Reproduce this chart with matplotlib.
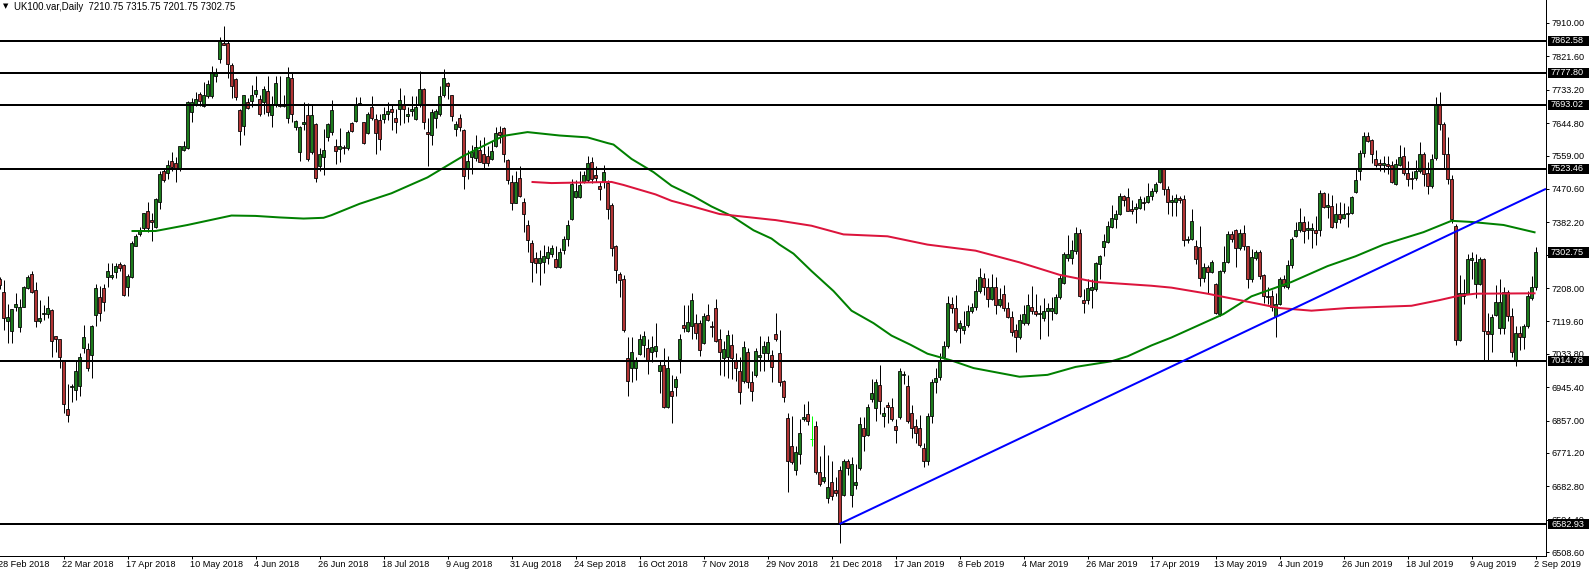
import matplotlib
matplotlib.use('Agg')
import matplotlib.pyplot as plt
import matplotlib.transforms as mtransforms
from matplotlib.patches import Rectangle

# ---------------- data ----------------
symbol = "UK100.var,Daily"

opens = [
7232,7197,7120,7093,7157,7105,7159,7207,7245,7203,
7120,7139,7139,7150,7080,7072,7016,6888,6945,6938,
6949,7049,7046,7030,7137,7184,7207,7238,7238,7250,
7271,7269,7211,7238,7320,7351,7366,7411,7387,7370,
7437,7517,7512,7545,7540,7526,7574,7578,7673,7692,
7723,7689,7716,7716,7770,7815,7857,7856,7799,7761,
7680,7638,7701,7704,7723,7708,7701,7730,7666,7692,
7695,7689,7659,7765,7635,7569,7642,7666,7569,7642,
7531,7555,7607,7621,7583,7576,7581,7578,7645,7651,
7695,7647,7619,7687,7657,7654,7657,7670,7682,7659,
7682,7692,7663,7678,7657,7692,7736,7621,7612,7659,
7668,7718,7752,7718,7628,7659,7626,7522,7555,7553,
7574,7564,7557,7550,7583,7621,7632,7547,7490,7434,
7500,7437,7375,7328,7288,7273,7276,7288,7299,7285,
7263,7309,7337,7392,7448,7449,7490,7493,7543,7507,
7479,7489,7487,7427,7318,7245,7231,7023,6995,6995,
7033,7058,7049,7039,7042,6989,7004,6893,6935,6945,
7020,7110,7093,7108,7115,7115,7063,7137,7106,7156,
7074,7023,7025,7058,7014,6987,6961,7039,6959,6978,
7025,7035,7036,7030,7087,7036,6961,6864,6789,6727,
6768,6860,6874,6809,6843,6720,6696,6651,6694,6673,
6727,6661,6751,6661,6686,6730,6838,6819,6913,6891,
6951,6869,6897,6893,6843,6866,6978,6949,6878,6843,
6836,6784,6751,6869,6959,6973,7025,7055,7167,7156,
7101,7096,7110,7148,7159,7200,7235,7210,7178,7212,
7162,7191,7156,7131,7096,7077,7115,7115,7159,7146,
7139,7129,7148,7146,7143,7184,7222,7288,7288,7307,
7354,7176,7176,7203,7205,7271,7316,7330,7370,7392,
7405,7451,7449,7418,7418,7420,7436,7437,7451,7465,
7489,7522,7470,7436,7437,7446,7443,7335,7337,7318,
7316,7235,7263,7250,7219,7140,7252,7276,7351,7361,
7314,7354,7318,7231,7288,7304,7243,7188,7186,7134,
7167,7231,7210,7269,7347,7361,7383,7361,7361,7361,
7361,7460,7422,7424,7383,7405,7394,7404,7408,7462,
7519,7566,7610,7600,7550,7538,7534,7536,7534,7484,
7534,7557,7512,7500,7500,7517,7562,7512,7479,7553,
7692,7642,7562,7496,7373,7070,7186,7193,7282,7219,
7219,7285,7093,7087,7137,7101,7103,7197,7134,7016,
7089,7077,7108,7182,7210.75]

highs = [
7238,7228,7167,7152,7195,7180,7214,7243,7252,7224,
7176,7162,7186,7152,7082,7074,7018,6954,6954,7016,
7035,7110,7063,7110,7219,7214,7219,7273,7273,7273,
7276,7271,7245,7332,7351,7370,7408,7436,7406,7446,
7517,7522,7547,7569,7555,7585,7597,7703,7711,7727,
7727,7753,7758,7796,7791,7872,7902,7862,7805,7763,
7682,7720,7711,7746,7770,7720,7742,7770,7716,7770,
7769,7720,7793,7777,7654,7637,7701,7697,7692,7644,
7578,7630,7645,7706,7602,7632,7588,7626,7649,7714,
7714,7649,7673,7716,7668,7668,7687,7701,7692,7682,
7739,7720,7687,7716,7716,7784,7739,7659,7682,7682,
7744,7788,7755,7720,7651,7670,7630,7574,7588,7613,
7600,7607,7583,7597,7635,7638,7635,7549,7508,7517,
7531,7446,7389,7335,7304,7309,7323,7318,7323,7318,
7313,7345,7389,7498,7493,7519,7519,7557,7555,7531,
7489,7534,7493,7432,7323,7250,7243,7077,7077,7025,
7087,7093,7074,7082,7115,7016,7049,7027,6978,6976,
7087,7162,7162,7195,7139,7122,7143,7167,7120,7178,
7099,7068,7096,7087,7035,7025,7068,7049,6987,7049,
7082,7068,7082,7044,7143,7096,6964,6878,6869,6789,
6860,6902,6910,6869,6855,6762,6793,6765,6749,6708,
6736,6755,6755,6760,6741,6866,6866,6902,6966,6968,
7004,6893,6907,6916,6860,6997,6987,6978,6897,6862,
6871,6798,6878,6968,6997,7035,7068,7186,7184,7190,
7124,7148,7162,7169,7231,7262,7247,7235,7245,7238,
7207,7216,7172,7146,7112,7140,7162,7193,7214,7193,
7162,7181,7169,7184,7191,7243,7304,7349,7335,7370,
7365,7205,7233,7231,7276,7295,7351,7385,7427,7415,
7460,7455,7474,7441,7434,7453,7449,7487,7474,7490,
7526,7526,7479,7455,7458,7452,7455,7346,7418,7335,
7373,7273,7269,7282,7222,7257,7318,7358,7358,7365,
7365,7375,7320,7311,7309,7309,7245,7210,7203,7195,
7238,7243,7282,7342,7383,7420,7399,7385,7380,7399,
7468,7462,7460,7455,7434,7436,7434,7424,7453,7526,
7574,7621,7621,7604,7574,7550,7557,7559,7545,7550,
7588,7581,7545,7519,7547,7594,7569,7541,7562,7714,
7727,7649,7607,7507,7377,7243,7233,7297,7304,7297,
7290,7288,7143,7138,7216,7231,7210,7203,7156,7108,
7108,7112,7200,7240,7315.75]

lows = [
7205,7096,7063,7063,7148,7091,7157,7205,7195,7105,
7115,7124,7129,7025,7039,6997,6878,6852,6907,6912,
6921,7035,6987,6970,7108,7120,7148,7210,7233,7235,
7252,7188,7188,7235,7318,7347,7361,7356,7332,7366,
7418,7489,7498,7517,7489,7517,7572,7576,7649,7689,
7689,7687,7711,7711,7753,7805,7852,7763,7711,7706,
7588,7613,7682,7687,7714,7664,7670,7664,7635,7687,
7687,7687,7645,7649,7626,7545,7626,7545,7564,7489,
7517,7508,7597,7613,7536,7543,7564,7574,7621,7649,
7692,7590,7615,7654,7562,7574,7645,7654,7626,7619,
7640,7645,7649,7664,7654,7687,7629,7531,7588,7632,
7664,7714,7708,7651,7610,7623,7470,7498,7509,7545,
7541,7526,7531,7547,7581,7593,7541,7484,7415,7432,
7449,7356,7304,7224,7247,7216,7247,7271,7290,7262,
7262,7299,7318,7389,7446,7446,7487,7489,7487,7489,
7441,7474,7392,7292,7222,7184,7091,6921,6959,6964,
7030,7025,6980,7011,7025,6930,6891,6891,6850,6921,
6982,7091,7091,7074,7074,7027,7061,7120,7077,7065,
6978,6976,6970,6966,6961,6902,6957,6942,6910,6973,
6989,6987,7016,6959,7068,6949,6907,6667,6741,6713,
6741,6857,6845,6789,6715,6684,6692,6639,6646,6656,
6533,6656,6713,6628,6675,6727,6777,6815,6907,6855,
6874,6841,6850,6855,6798,6862,6954,6850,6812,6798,
6787,6734,6739,6850,6930,6964,7020,7049,7143,7091,
7063,7087,7105,7143,7150,7195,7190,7159,7175,7139,
7157,7148,7129,7082,7039,7074,7110,7110,7140,7134,
7074,7120,7080,7122,7139,7178,7219,7280,7271,7297,
7184,7143,7167,7156,7200,7231,7292,7326,7366,7366,
7402,7424,7411,7405,7380,7418,7415,7432,7441,7460,
7487,7455,7403,7398,7398,7432,7320,7327,7335,7271,
7214,7224,7195,7247,7140,7133,7247,7273,7330,7263,
7309,7309,7207,7224,7282,7233,7169,7165,7148,7077,
7162,7207,7205,7260,7342,7356,7326,7337,7314,7323,
7345,7420,7394,7368,7368,7380,7392,7370,7405,7460,
7493,7555,7594,7538,7528,7519,7515,7509,7487,7481,
7531,7507,7479,7471,7493,7512,7479,7458,7474,7547,
7626,7526,7484,7380,7058,7067,7167,7191,7233,7181,
7216,7016,7016,7039,7134,7087,7087,7120,7025,7001,
7044,7046,7103,7175,7201.75]

closes = [
7215,7129,7130,7152,7165,7159,7210,7238,7197,7120,
7129,7142,7156,7068,7072,7025,6902,6871,6949,6987,
7025,7077,6997,7108,7207,7143,7172,7254,7243,7266,
7260,7190,7241,7328,7345,7361,7406,7366,7383,7443,
7511,7493,7534,7528,7525,7583,7583,7701,7701,7708,
7704,7720,7749,7777,7777,7862,7853,7801,7744,7714,
7623,7718,7685,7718,7733,7670,7736,7673,7695,7752,
7691,7695,7768,7670,7651,7635,7647,7550,7666,7500,
7562,7574,7642,7680,7572,7585,7579,7621,7623,7692,
7697,7593,7670,7659,7619,7602,7670,7678,7673,7647,
7706,7682,7668,7682,7687,7736,7649,7616,7673,7678,
7716,7765,7744,7663,7642,7635,7505,7545,7569,7581,
7543,7538,7538,7571,7619,7612,7564,7493,7434,7489,
7451,7403,7335,7276,7273,7288,7292,7304,7315,7263,
7304,7339,7375,7484,7465,7481,7507,7538,7498,7500,
7471,7514,7418,7314,7257,7228,7096,6961,7039,7016,
7072,7080,7016,7053,7055,7004,6894,6997,6923,6966,
7072,7101,7117,7176,7089,7044,7134,7124,7105,7068,
7039,7046,7084,7023,6995,6932,7053,6959,6935,7042,
7030,7055,7065,6999,7072,6959,6919,6749,6746,6774,
6824,6866,6857,6809,6720,6689,6708,6680,6656,6666,
6583,6751,6732,6743,6694,6847,6815,6893,6930,6959,
6910,6878,6893,6862,6831,6989,6979,6855,6836,6824,
6793,6751,6869,6959,6970,7016,7055,7169,7156,7096,
7115,7108,7148,7159,7200,7238,7210,7178,7212,7162,
7178,7156,7131,7091,7077,7124,7140,7162,7148,7140,
7143,7148,7156,7156,7184,7235,7297,7297,7309,7354,
7188,7169,7207,7210,7273,7292,7332,7373,7394,7405,
7453,7441,7413,7413,7422,7443,7432,7453,7465,7484,
7522,7470,7437,7441,7446,7441,7335,7339,7386,7285,
7235,7263,7250,7278,7143,7252,7276,7351,7337,7314,
7354,7318,7231,7290,7304,7241,7186,7184,7159,7167,
7233,7214,7269,7337,7361,7383,7358,7366,7366,7354,
7460,7422,7427,7370,7405,7392,7405,7408,7449,7493,
7566,7610,7597,7562,7534,7534,7538,7531,7489,7536,
7555,7512,7498,7496,7519,7562,7509,7479,7550,7692,
7642,7562,7496,7392,7070,7195,7195,7285,7288,7276,
7285,7093,7087,7131,7172,7172,7197,7134,7039,7089,
7077,7108,7186,7211,7302.75]

# moving averages sampled along the chart (bar number, value)
ma_green_bars = [33, 39, 47, 58, 64, 70, 76, 81, 83, 90, 98, 107, 116, 126, 132, 140, 147,
                 152, 153.5, 158, 163.5, 168, 173.5, 178, 183, 188.5, 193, 195, 198.5, 203,
                 208.5, 213, 218.5, 223, 227.7, 232, 238, 243.5, 248, 255, 262,
                 269, 278, 282, 288, 293, 302, 306, 313, 318, 323, 332, 339, 346, 356, 363,
                 368, 376, 384]
ma_green_vals = [7359, 7359, 7375, 7400, 7399, 7395, 7392, 7394, 7401, 7431, 7459, 7501, 7558,
                 7611, 7621, 7612, 7607, 7592, 7588, 7550, 7515, 7479, 7451, 7424, 7399, 7361,
                 7339, 7323, 7299, 7253, 7200, 7148, 7115, 7082, 7058, 7034, 7016, 6996, 6987,
                 6973, 6978, 6999, 7014, 7027, 7056, 7077, 7120, 7139,
                 7186, 7205, 7224, 7266, 7292, 7323, 7356, 7386, 7383, 7375, 7355]
ma_red_bars = [133, 138, 153, 156, 164, 168, 173, 180, 193, 194, 203, 211, 222, 232, 244, 255,
               265, 274, 288, 293, 302, 310, 320, 328, 337, 353, 360, 365, 369, 384]
ma_red_vals = [7489, 7486, 7489, 7481, 7456, 7439, 7425, 7404, 7389, 7388, 7373, 7350, 7345,
               7323, 7307, 7276, 7243, 7224, 7214, 7209, 7193, 7176, 7155, 7148, 7155, 7161,
               7176, 7188, 7193, 7194]

# trend line anchors (bar number, price)
trend_bars = [210, 384]
trend_vals = [6582.93, 7457.6]

levels = [7862.58, 7777.80, 7693.02, 7523.46, 7014.78, 6582.93]

price_ticks = [7910.00, 7821.60, 7733.20, 7644.80, 7559.00, 7470.60, 7382.20, 7296.40,
               7208.00, 7119.60, 7033.80, 6945.40, 6857.00, 6771.20, 6682.80, 6594.40, 6508.60]

date_labels = ["28 Feb 2018", "22 Mar 2018", "17 Apr 2018", "10 May 2018", "4 Jun 2018",
               "26 Jun 2018", "18 Jul 2018", "9 Aug 2018", "31 Aug 2018", "24 Sep 2018",
               "16 Oct 2018", "7 Nov 2018", "29 Nov 2018", "21 Dec 2018", "17 Jan 2019",
               "8 Feb 2019", "4 Mar 2019", "26 Mar 2019", "17 Apr 2019", "13 May 2019",
               "4 Jun 2019", "26 Jun 2019", "18 Jul 2019", "9 Aug 2019", "2 Sep 2019"]
label_step = 16

# ---------------- figure ----------------
W, H, DPI = 1589, 572, 100
FONT = 'Liberation Sans'
FS = 6.6
px = 72.0 / DPI  # one pixel in points

fig = plt.figure(figsize=(W / DPI, H / DPI), dpi=DPI)
fig.patch.set_facecolor('white')
ax_right, ax_bottom = 1546, 556
ax = fig.add_axes([0, (H - ax_bottom) / H, ax_right / W, ax_bottom / H])
ax.set_facecolor('white')

n = min(len(opens), len(highs), len(lows), len(closes))
ax.set_xlim(0.125, (ax_right + 0.5) / 4.0)
ax.set_ylim(6498.2, 7970.9)

bull, bear = '#1C7C1C', '#B23434'
body_bottom, body_h, body_cols, norm_x = [], [], [], []
doji_x, doji_y, doji_l, doji_h = [], [], [], []
for i in range(n):
    o, h, l, c = opens[i], highs[i], lows[i], closes[i]
    if o == c:
        doji_x.append(i); doji_y.append(o); doji_l.append(l); doji_h.append(h)
        continue
    norm_x.append(i)
    body_bottom.append(min(o, c))
    body_h.append(max(abs(c - o), 2.0))
    body_cols.append(bull if c > o else bear)

ax.vlines(norm_x, [lows[i] for i in norm_x], [highs[i] for i in norm_x],
          colors='black', linewidth=1.0 * px, zorder=2)
ax.bar(norm_x, body_h, bottom=body_bottom, width=0.62, color=body_cols,
       edgecolor='black', linewidth=0.8 * px, zorder=2.2)
if doji_x:
    ax.vlines(doji_x, doji_l, doji_h, colors='#00FF00', linewidth=1.0 * px, zorder=2)
    ax.hlines(doji_y, [x - 0.4 for x in doji_x], [x + 0.4 for x in doji_x],
              colors='#00FF00', linewidth=1.0 * px, zorder=2)

# moving averages
ax.plot(ma_green_bars, ma_green_vals, color='#008000', lw=2.0 * px, zorder=3,
        solid_capstyle='butt', solid_joinstyle='round')
ax.plot(ma_red_bars, ma_red_vals, color='#DC143C', lw=2.0 * px, zorder=3,
        solid_capstyle='butt', solid_joinstyle='round')

# horizontal levels
for v in levels:
    ax.axhline(v, color='black', lw=2.0 * px, zorder=4)

# trend line (ray to the right edge)
x_end = ax.get_xlim()[1]
slope = (trend_vals[1] - trend_vals[0]) / (trend_bars[1] - trend_bars[0])
ax.plot([trend_bars[0], x_end], [trend_vals[0], trend_vals[0] + slope * (x_end - trend_bars[0])],
        color='#0000FF', lw=2.0 * px, zorder=4.5, solid_capstyle='butt')

# spines
for s in ('left', 'top'):
    ax.spines[s].set_visible(False)
for s in ('right', 'bottom'):
    ax.spines[s].set_color('black')
    ax.spines[s].set_linewidth(1.0 * px)

# y axis on the right
ax.yaxis.tick_right()
ax.set_yticks(price_ticks)
ax.set_yticklabels(['%.2f' % v for v in price_ticks], fontfamily=FONT, fontsize=FS)
ax.tick_params(axis='y', direction='out', length=3 * px, width=1.0 * px, pad=3 * px,
               colors='black')

# x axis ticks and labels
ax.set_xticks(list(range(label_step, n, label_step)))
ax.set_xticklabels([])
ax.tick_params(axis='x', direction='out', length=3 * px, width=1.0 * px)
xtrans = mtransforms.blended_transform_factory(ax.transData, ax.transAxes) + \
    mtransforms.ScaledTranslation(-2 / DPI, -8.5 / DPI, fig.dpi_scale_trans)
for k, lab in enumerate(date_labels):
    ax.text(k * label_step, 0, lab, transform=xtrans, ha='left', va='center',
            fontfamily=FONT, fontsize=FS, clip_on=False)

# black price boxes on the right
btrans = mtransforms.blended_transform_factory(fig.transFigure, ax.transData)
box_h = 10.5 / 0.37753
for v in levels + [closes[n - 1]]:
    ax.add_patch(Rectangle((1548 / W, v - box_h / 2), 41 / W, box_h, transform=btrans,
                           facecolor='black', edgecolor='none', clip_on=False, zorder=10))
    ax.text(1551 / W, v, '%.2f' % v, transform=btrans, color='white', ha='left',
            va='center', fontfamily=FONT, fontsize=FS, clip_on=False, zorder=11)

# title
fig.text(2.5 / W, 1 - 6.5 / H, '\u25BC', fontfamily='DejaVu Sans', fontsize=5.0,
         ha='left', va='center')
title = '%s  %.2f %.2f %.2f %.2f' % (symbol, opens[n - 1], highs[n - 1], lows[n - 1], closes[n - 1])
fig.text(14 / W, 1 - 7 / H, title, fontfamily=FONT, fontsize=FS + 0.3, ha='left', va='center')

fig.savefig('out.png', dpi=DPI, facecolor='white')
